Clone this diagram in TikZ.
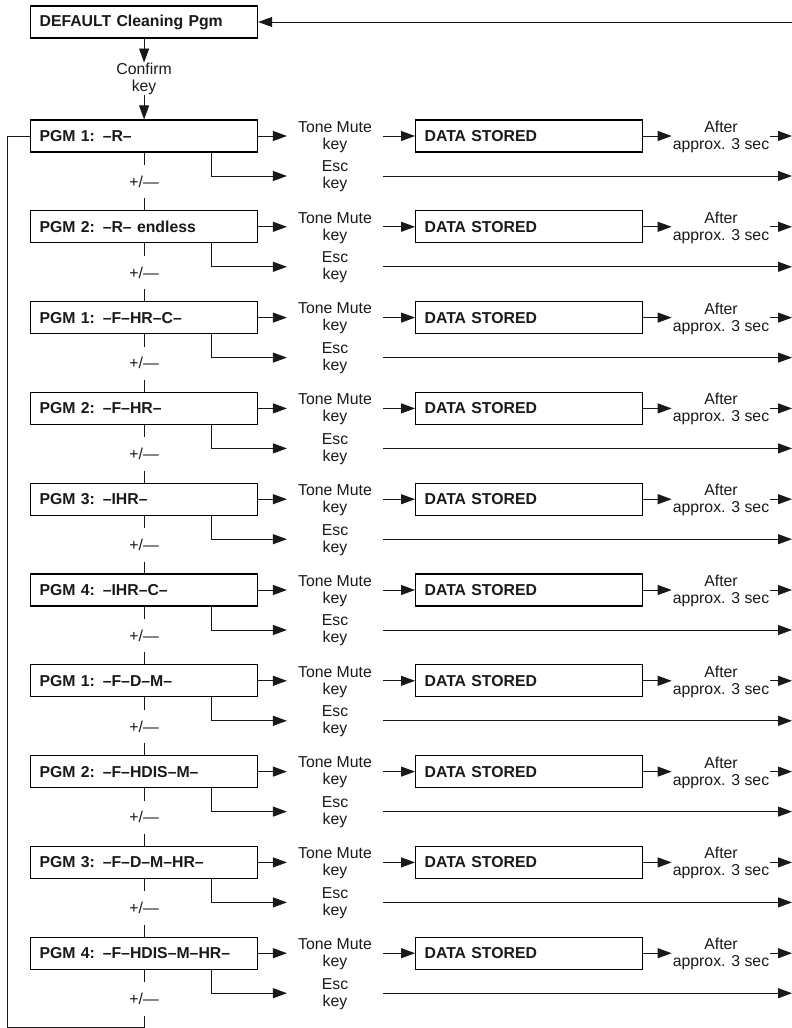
\documentclass[tikz,border=0pt]{standalone}
\usepackage{fontspec}
\setmainfont{Liberation Sans}
\usetikzlibrary{arrows.meta}
\begin{document}
\begin{tikzpicture}[x=1pt,y=-1pt,
  every node/.style={font=\fontsize{15.8}{17}\selectfont, text=black!90},
  pgmbox/.style={draw, line width=1.2pt, anchor=west, minimum height=32pt,
    text width=209pt, inner xsep=9pt, inner ysep=0pt, align=left, font=\fontsize{15.8}{17}\selectfont\bfseries},
  dsbox/.style={pgmbox},
  keylab/.style={align=center, inner xsep=11pt, inner ysep=0pt},
  aftlab/.style={align=center, inner xsep=1pt, inner ysep=0pt},
  pmlab/.style={inner sep=0pt, minimum height=33pt},
  conn/.style={line width=0.9pt, draw=black!90},
  arr/.style={conn, -{Triangle[length=14pt,width=10pt]}}
]
\useasboundingbox (0,0) rectangle (792,1028);

\node[pgmbox] (def) at (30,22) {DEFAULT Cleaning Pgm};
\coordinate (rtop) at (792,22);
\path (def.south) ++(0,40) node[align=center, inner sep=0pt] (ck) {Confirm\\key};
\draw[arr] (rtop) -- (def.east);
\draw[arr] (def.south) -- (ck.north);

\foreach \lab [count=\i from 0] in {PGM 1: –R–, PGM 2: –R– endless, PGM 1: –F–HR–C–, PGM 2: –F–HR–, PGM 3: –IHR–, PGM 4: –IHR–C–, PGM 1: –F–D–M–, PGM 2: –F–HDIS–M–, PGM 3: –F–D–M–HR–, PGM 4: –F–HDIS–M–HR–}{
  \pgfmathsetmacro\yc{136+\i*90.8}
  \node[pgmbox] (p\i) at (30,\yc) {\lab};
  \node[keylab] (tm\i) at (335,\yc+1) {Tone Mute\\key};
  \node[keylab] (esc\i) at (335,\yc+40.5) {Esc\\key};
  \node[dsbox] (ds\i) at (415,\yc) {DATA STORED};
  \node[aftlab] (af\i) at (721,\yc+1) {After\\approx. 3 sec};
  \path (p\i.south) ++(0,29) node[pmlab] (pm\i) {+/—};
  \coordinate (rt\i) at (792,\yc);
  \coordinate (re\i) at (792,\yc+40);
  \coordinate (ec\i) at (211,\yc+16);
  \draw[arr] (p\i.east) -- (p\i.east -| tm\i.west);
  \draw[arr] (p\i.east -| tm\i.east) -- (ds\i.west);
  \draw[arr] (ds\i.east) -- (ds\i.east -| af\i.west);
  \draw[arr] (ds\i.east -| af\i.east) -- (rt\i);
  \draw[arr] (ec\i) |- (re\i -| tm\i.west);
  \draw[arr] (re\i -| tm\i.east) -- (re\i);
  \draw[conn] (p\i.south) -- (pm\i.north);
}
\foreach \i in {0,...,8}{
  \pgfmathtruncatemacro\j{\i+1}
  \draw[conn] (pm\i.south) -- (p\j.north);
}
\draw[arr] (ck.south) -- (p0.north);
\coordinate (lb) at (7,1027);
\draw[conn] (pm9.south) |- (lb) |- (p0.west);
\end{tikzpicture}
\end{document}
